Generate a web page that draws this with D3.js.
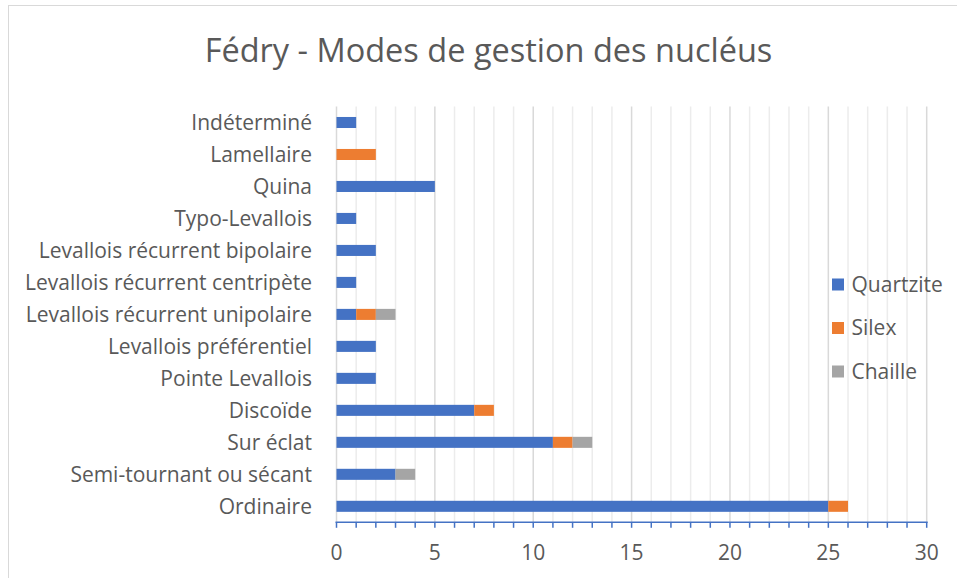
<!DOCTYPE html>
<html>
<head>
<meta charset="utf-8">
<script src="https://cdn.jsdelivr.net/npm/d3@7"></script>
<style>
  html, body { margin: 0; padding: 0; background: #fff; }
  svg text { font-family: "Open Sans", "DejaVu Sans", sans-serif; fill: #595959; }
</style>
</head>
<body>
<svg id="chart" width="957" height="578"></svg>
<script>
const categories = [
  "Indéterminé", "Lamellaire", "Quina", "Typo-Levallois",
  "Levallois récurrent bipolaire", "Levallois récurrent centripète",
  "Levallois récurrent unipolaire", "Levallois préférentiel",
  "Pointe Levallois", "Discoïde", "Sur éclat",
  "Semi-tournant ou sécant", "Ordinaire"
];
const seriesNames = ["Quartzite", "Silex", "Chaille"];
const quartzite = [1, 0, 5, 1, 2, 1, 1, 2, 2, 7, 11, 3, 25];
const silex     = [0, 2, 0, 0, 0, 0, 1, 0, 0, 1, 1, 0, 1];
const chaille   = [0, 0, 0, 0, 0, 0, 1, 0, 0, 0, 1, 1, 0];
const seriesColors = ["#4472C4", "#ED7D31", "#A5A5A5"];
const xTicks = [0, 5, 10, 15, 20, 25, 30];
const title = "Fédry - Modes de gestion des nucléus";

const svg = d3.select("#chart");

// chart frame
svg.append("rect")
  .attr("x", 8.5).attr("y", 5.5).attr("width", 960).attr("height", 590)
  .attr("fill", "#fff").attr("stroke", "#d9d9d9").attr("stroke-width", 1);

svg.append("text")
  .attr("x", 488.5).attr("y", 62)
  .attr("text-anchor", "middle")
  .style("font-size", "32.5px")
  .text(title);

const plot = { left: 336.5, right: 926.7, top: 106.5, bottom: 522.3 };

const x = d3.scaleLinear().domain([0, 30]).range([plot.left, plot.right]);
const y = d3.scaleBand().domain(categories).range([plot.top, plot.bottom]).paddingInner(0.655).paddingOuter(0.3275);

// gridlines: light every unit, darker every 5
const g = svg.append("g");
g.selectAll("line.minor")
  .data(d3.range(1, 31).filter(v => v % 5 !== 0))
  .join("line")
  .attr("x1", d => x(d)).attr("x2", d => x(d))
  .attr("y1", plot.top).attr("y2", plot.bottom)
  .attr("stroke", "#ececec").attr("stroke-width", 1.5);
g.selectAll("line.major")
  .data(xTicks)
  .join("line")
  .attr("x1", d => x(d)).attr("x2", d => x(d))
  .attr("y1", plot.top).attr("y2", plot.bottom)
  .attr("stroke", "#d9d9d9").attr("stroke-width", 1.5);

// stacked bars
const rows = categories.map((c, i) => ({ cat: c, Quartzite: quartzite[i], Silex: silex[i], Chaille: chaille[i] }));
const stacked = d3.stack().keys(seriesNames)(rows);

svg.append("g").selectAll("g")
  .data(stacked)
  .join("g")
  .attr("fill", (d, i) => seriesColors[i])
  .selectAll("rect")
  .data(d => d.filter(s => s[1] - s[0] > 0))
  .join("rect")
  .attr("x", d => x(d[0]))
  .attr("width", d => x(d[1]) - x(d[0]))
  .attr("y", d => y(d.data.cat))
  .attr("height", y.bandwidth());

// category labels
svg.append("g").selectAll("text")
  .data(categories)
  .join("text")
  .attr("x", 312)
  .attr("y", d => y(d) + y.bandwidth() / 2)
  .attr("dy", "0.35em")
  .attr("text-anchor", "end")
  .style("font-size", "21px")
  .text(d => d);

// x axis: blue line with a tick at each unit
const axis = svg.append("g").attr("transform", `translate(0,${plot.bottom})`);
axis.append("line")
  .attr("x1", plot.left - 1).attr("x2", plot.right + 1)
  .attr("stroke", "#4472C4").attr("stroke-width", 1.5);
axis.selectAll("line.tick")
  .data(d3.range(0, 31))
  .join("line")
  .attr("x1", d => x(d)).attr("x2", d => x(d))
  .attr("y1", 0).attr("y2", 5.5)
  .attr("stroke", "#4472C4").attr("stroke-width", 1.5);
axis.selectAll("text")
  .data(xTicks)
  .join("text")
  .attr("x", d => x(d))
  .attr("y", 30)
  .attr("dy", "0.35em")
  .attr("text-anchor", "middle")
  .style("font-size", "21px")
  .text(d => d);

// legend
const legend = svg.append("g").selectAll("g")
  .data(seriesNames)
  .join("g")
  .attr("transform", (d, i) => `translate(832,${284.5 + i * 43.5})`);
legend.append("rect")
  .attr("x", 0).attr("y", -6).attr("width", 12).attr("height", 12)
  .attr("fill", (d, i) => seriesColors[i]);
legend.append("text")
  .attr("x", 19.5).attr("y", 0).attr("dy", "0.35em")
  .style("font-size", "21px")
  .text(d => d);
</script>
</body>
</html>
